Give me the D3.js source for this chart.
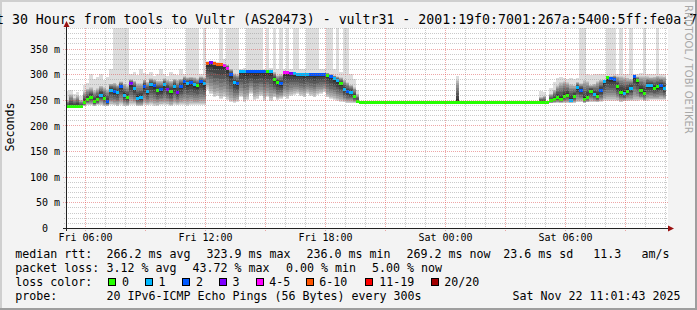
<!DOCTYPE html>
<html><head><meta charset="utf-8">
<script src="https://cdn.jsdelivr.net/npm/d3@7"></script>
<style>
html,body{margin:0;padding:0;background:#f3f3f3;}
svg{display:block;}
text{font-family:"DejaVu Sans Mono",monospace;fill:#000;}
</style></head><body>
<svg id="c" width="697" height="310"></svg>
<script>
// ---------------- data ----------------
const titleText = "Last 30 Hours from tools to Vultr (AS20473) - vultr31 - 2001:19f0:7001:267a:5400:5ff:fe0a:7";
const yAxisLabel = "Seconds";
const watermark = "RRDTOOL / TOBI OETIKER";
const yTicks = [0, 50, 100, 150, 200, 250, 300, 350];
const stepMinutes = 10;
// median rtt per 10-minute step (ms)
const median = [
236,236,236,236,236,
244,251,255,246,250,259,253,246,269,266,265,276,259,254,282,272,253,254,276,266,280,277,269,270,279,271,266,276,265,276,285,282,283,279,277,285,282,
321,322,320,318,318,317,312,300,284,282,
306,306,305,305,305,305,305,305,305,305,
289,284,282,
303,303,302,301,300,300,300,300,300,300,300,300,300,
298,295,291,287,282,270,266,264,256,246,
244.5,244.5,244.5,244.5,244.5,244.5,244.5,244.5,244.5,244.5,244.5,244.5,244.5,244.5,
244.5,244.5,244.5,244.5,244.5,244.5,244.5,244.5,244.5,244.5,244.5,244.5,244.5,244.5,
244.5,244.5,244.5,244.5,244.5,244.5,244.5,244.5,244.5,244.5,244.5,244.5,244.5,244.5,
244.5,244.5,244.5,244.5,244.5,244.5,244.5,244.5,244.5,244.5,244.5,244.5,244.5,244.5,
245,248,251,254,250,257,259,249,256,274,268,250,255,267,261,256,268,285,293,292,290,276,265,263,267,273,296,288,268,263,278,277,273,275,278,272
];
// lost pings (of 20) per step
const loss = [
0,0,0,0,0,
0,0,0,0,0,1,0,2,1,2,1,2,1,0,3,1,1,1,2,1,1,2,0,2,1,3,0,1,3,2,2,1,2,1,0,2,1,
6,3,6,6,6,4,4,2,1,2,
1,1,2,2,2,2,2,2,0,1,
0,0,2,
4,4,3,1,1,1,1,1,2,2,2,2,2,
0,2,1,1,0,1,2,1,0,0,
0,0,0,0,0,0,0,0,0,0,0,0,0,0,
0,0,0,0,0,0,0,0,0,0,0,0,0,0,
0,0,0,0,0,0,0,0,0,0,0,0,0,0,
0,0,0,0,0,0,0,0,0,0,0,0,0,0,
0,0,0,0,0,0,0,1,0,1,2,0,0,0,1,0,2,1,0,2,2,0,0,1,0,1,2,0,0,0,1,1,0,0,2,1
];
// smoke: lowest ping per step
const pingLow = [
234,234,234,234,234,
238,240,240,238,240,240,238,238,240,240,238,240,238,238,240,240,238,238,240,240,240,238,238,240,240,240,238,240,240,240,240,238,240,240,240,240,240,
270,262,255,258,252,255,250,245,244,246,
255,246,250,262,250,252,258,248,255,248,
255,250,252,
255,252,258,260,262,258,255,262,258,255,260,262,265,
255,252,250,248,246,245,244,244,244,244,
244,244,244,244,244,244,244,244,244,244,244,244,244,244,
244,244,244,244,244,244,244,244,244,244,244,244,244,244,
244,244,244,244,244,244,244,244,244,244,244,244,244,244,
244,244,244,244,244,244,244,244,244,244,244,244,244,244,
243,243,244,244,244,244,244,244,244,245,245,244,245,246,246,245,246,248,248,248,248,248,246,247,248,248,248,248,250,248,248,250,250,250,250,250
];
// smoke: upper bulk ping per step
const pingHigh = [
250,262,255,260,250,
268,272,275,270,274,278,275,272,282,284,280,286,282,280,290,288,284,284,290,286,292,290,288,288,292,290,288,292,290,292,296,294,295,294,292,296,294,
324,325,323,322,321,320,318,310,302,300,
308,308,308,308,308,308,308,308,308,308,
305,298,300,
306,306,305,304,303,303,303,303,303,303,303,303,303,
303,300,298,296,294,290,285,280,275,262,
245,245,245,245,245,245,245,245,245,245,245,245,245,245,
245,245,245,245,245,245,245,245,245,245,245,245,245,245,
245,290,245,245,245,245,245,245,245,245,245,245,245,245,
245,245,245,245,245,245,245,245,245,245,245,245,256,258,
245,262,
270,280,285,288,285,282,280,285,283,290,288,280,282,288,290,285,292,296,298,297,297,296,294,292,294,296,298,298,296,295,296,298,296,296,297,296
];
// smoke: highest ping per step (outliers, may exceed the chart top)
const pingMax = [
268,270,262,266,258,
278,282,300,290,295,300,288,295,310,420,420,420,420,420,300,305,298,310,302,300,305,296,300,310,300,296,305,300,298,310,300,420,420,420,420,300,420,
326,326,325,324,420,330,420,420,420,420,
310,312,420,420,420,420,420,310,420,312,
420,310,420,
310,420,310,420,420,310,310,420,420,420,420,310,310,
420,420,310,420,305,420,420,300,290,270,
245,245,245,245,245,245,245,245,245,245,245,245,245,245,
245,245,245,245,245,245,245,245,245,245,245,245,245,245,
245,297,245,245,245,245,245,245,245,245,245,245,245,245,
245,245,245,245,245,245,245,245,245,245,245,245,268,265,
245,273,
285,292,294,292,290,292,290,292,420,420,300,298,300,300,300,300,420,420,420,300,420,300,300,420,300,300,302,420,300,300,300,420,300,300,300,420
];
const lossBins = [
  {label:"0", max:0, color:"#26ff00"},
  {label:"1", max:1, color:"#00b8ff"},
  {label:"2", max:2, color:"#0059ff"},
  {label:"3", max:3, color:"#7e00ff"},
  {label:"4-5", max:5, color:"#ff00ff"},
  {label:"6-10", max:10, color:"#ff5500"},
  {label:"11-19", max:19, color:"#ff0000"},
  {label:"20/20", max:20, color:"#a10000"}
];
const legendRtt = ["median rtt:", "266.2 ms avg", "323.9 ms max", "236.0 ms min", "269.2 ms now", "23.6 ms sd", "11.3", "am/s"];
const legendLoss = ["packet loss:", "3.12 % avg", "43.72 % max", "0.00 % min", "5.00 % now"];
const legendColorTitle = "loss color:";
const legendProbe = ["probe:", "20 IPv6-ICMP Echo Pings (56 Bytes) every 300s", "Sat Nov 22 11:01:43 2025"];

// ---------------- layout ----------------
const W = 697, H = 310;
const X0 = 66, X1 = 666, Y0 = 228, YT = 28;
const start = new Date(2025, 10, 21, 5, 3);
const end = new Date(start.getTime() + 30*3600*1000);
const x = d3.scaleTime().domain([start, end]).range([X0, X1]);
const y = d3.scaleLinear().domain([0, 390]).range([Y0, YT]);
const svg = d3.select("#c");

// frame
svg.append("rect").attr("width", W).attr("height", H).attr("fill", "#f3f3f3");
svg.append("path").attr("d", `M1,${H} V1 H${W}`).attr("fill","none").attr("stroke","#cfcfcf").attr("stroke-width",2);
svg.append("path").attr("d", `M0,${H-1} H${W-1} V0`).attr("fill","none").attr("stroke","#9e9e9e").attr("stroke-width",2);
// canvas
svg.append("rect").attr("x", X0).attr("y", YT).attr("width", X1 - X0 + 2).attr("height", Y0 - YT).attr("fill", "#fff");

svg.append("defs").append("clipPath").attr("id","pc").append("rect")
  .attr("x", X0).attr("y", YT).attr("width", X1 - X0 + 2).attr("height", Y0 - YT);

// smoke
const steps = median.map((m, i) => {
  const t = new Date(start.getTime() + i*stepMinutes*60000);
  const t2 = new Date(t.getTime() + stepMinutes*60000);
  return {i, t, t2, med: m, lo: pingLow[i], hi: pingHigh[i], mx: pingMax[i], loss: loss[i]};
});
const layers = [];
steps.forEach(s => {
  layers.push({s, a: s.lo, b: s.mx, g: 221});
  for (let k = 1; k <= 9; k++) {
    const f = 1 - Math.pow(k/10, 1.5);
    layers.push({s, a: s.med - f*(s.med - s.lo), b: s.med + f*(s.hi - s.med), g: 221 - 19*k});
  }
});
const plot = svg.append("g").attr("clip-path","url(#pc)");
plot.selectAll("rect.smoke").data(layers).join("rect")
  .attr("class","smoke")
  .attr("x", d => x(d.s.t)).attr("width", d => x(d.s.t2) - x(d.s.t))
  .attr("y", d => y(d.b)).attr("height", d => Math.max(0, y(d.a) - y(d.b)))
  .attr("fill", d => `rgb(${d.g},${d.g},${d.g})`)
  .attr("shape-rendering","crispEdges");

// median
const colorFor = l => lossBins.find(b => l <= b.max).color;
plot.selectAll("rect.med").data(steps).join("rect")
  .attr("class","med")
  .attr("x", d => x(d.t)).attr("width", d => x(d.t2) - x(d.t))
  .attr("y", d => y(d.med) - 1.5).attr("height", 3)
  .attr("fill", d => colorFor(d.loss))
  .attr("shape-rendering","crispEdges");

// grid (on top)
const grid = svg.append("g").attr("shape-rendering","crispEdges").attr("stroke-dasharray","1,1");
const hours = d3.timeHour.range(start, end);
grid.selectAll("line.vmin").data(hours.filter(h => h.getHours() % 3 !== 0)).join("line")
  .attr("x1", d => Math.round(x(d)) + 0.5).attr("x2", d => Math.round(x(d)) + 0.5)
  .attr("y1", YT).attr("y2", Y0 + 2).attr("stroke", "rgba(150,150,150,0.5)");
grid.selectAll("line.vmaj").data(hours.filter(h => h.getHours() % 3 === 0)).join("line")
  .attr("x1", d => Math.round(x(d)) + 0.5).attr("x2", d => Math.round(x(d)) + 0.5)
  .attr("y1", YT).attr("y2", Y0 + 3).attr("stroke", "rgba(222,80,80,0.5)");
const minorY = d3.range(10, 391, 10).filter(v => v % 50 !== 0);
grid.selectAll("line.hmin").data(minorY).join("line")
  .attr("x1", X0 - 2).attr("x2", X1 + 2)
  .attr("y1", d => Math.round(y(d)) + 0.5).attr("y2", d => Math.round(y(d)) + 0.5)
  .attr("stroke", "rgba(150,150,150,0.5)");
grid.selectAll("line.hmaj").data(yTicks.filter(v => v > 0)).join("line")
  .attr("x1", X0 - 3).attr("x2", X1 + 2)
  .attr("y1", d => Math.round(y(d)) + 0.5).attr("y2", d => Math.round(y(d)) + 0.5)
  .attr("stroke", "rgba(222,80,80,0.5)");

// axes lines + arrows
svg.append("line").attr("x1", X0 + 0.5).attr("x2", X0 + 0.5).attr("y1", Y0 + 3).attr("y2", 24)
  .attr("stroke", "#222").attr("shape-rendering","crispEdges");
svg.append("line").attr("x1", X0 - 3).attr("x2", 669).attr("y1", Y0 + 0.5).attr("y2", Y0 + 0.5)
  .attr("stroke", "#222").attr("shape-rendering","crispEdges");
svg.append("path").attr("d", `M${X0+0.5},21 L${X0-2.5},27 L${X0+3.5},27 Z`).attr("fill", "#9a1010");
svg.append("path").attr("d", `M674,${Y0+0.5} L668,${Y0-2.5} L668,${Y0+3.5} Z`).attr("fill", "#9a1010");

// x axis labels
const labelTimes = hours.filter(h => h.getHours() % 6 === 0);
const xa = svg.append("g").attr("transform", `translate(0,${Y0})`)
  .call(d3.axisBottom(x).tickValues(labelTimes).tickFormat(d3.timeFormat("%a %H:%M")).tickSize(0));
xa.select(".domain").remove();
xa.selectAll("text").attr("y", 12.7).attr("dy", null)
  .style("font-family", "DejaVu Sans Mono").style("font-size", "10px").attr("fill", "#000");

// y axis labels
const ya = svg.append("g").attr("transform", `translate(60,0)`)
  .call(d3.axisLeft(y).tickValues(yTicks).tickFormat(v => v ? v + " m" : "0").tickSize(0).tickPadding(0));
ya.select(".domain").remove();
ya.selectAll("text").attr("x", d => d ? 0 : -12).attr("dy", "0.36em")
  .style("font-family", "DejaVu Sans Mono").style("font-size", "10px").attr("fill", "#000");

// titles
svg.append("text").attr("x", -27.9).attr("y", 23.5).style("font-size", "13.24px").text(titleText);
svg.append("text").attr("transform", "translate(14.3,127) rotate(-90)").attr("text-anchor","middle")
  .style("font-size", "11.6px").text(yAxisLabel);
svg.append("text").attr("transform", "translate(684.5,5) rotate(90)")
  .style("font-family", "DejaVu Sans").style("font-size", "10px").style("fill", "#a8a8a8").text(watermark);

// legend
const lg = svg.append("g").style("font-size", "11.63px");
const put = (txt, px, py) => lg.append("text").attr("x", px).attr("y", py).text(txt);
[15.3, 106.6, 206.6, 306.6, 406.6, 503.3, 593.3, 641.6].forEach((px, k) => put(legendRtt[k], px, 258.3));
[15.3, 106.6, 192.6, 286, 372].forEach((px, k) => put(legendLoss[k], px, 272.3));
put(legendColorTitle, 15.3, 286.3);
const boxX = [108.5, 145.5, 182.5, 219.5, 256.5, 306.5, 365.5, 431.5];
const labX = [122, 158.6, 196, 232.6, 269.3, 319.3, 379.3, 444.3];
lossBins.forEach((b, k) => {
  lg.append("rect").attr("x", boxX[k]).attr("y", 278.5).attr("width", 7).attr("height", 7)
    .attr("fill", b.color).attr("stroke", "#000").attr("shape-rendering","crispEdges");
  put(b.label, labX[k], 286.3);
});
[15.3, 106.6, 512.6].forEach((px, k) => put(legendProbe[k], px, 300.3));
</script>
</body></html>
